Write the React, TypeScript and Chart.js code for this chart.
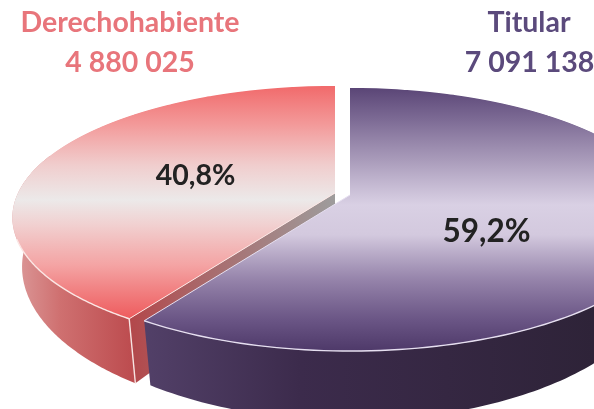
import React, { useEffect, useRef } from "react";
import { Chart, registerables } from "chart.js";

Chart.register(...registerables);

const categories = ["Titular", "Derechohabiente"];
const values = [7091138, 4880025];
const valueLabels = ["7 091 138", "4 880 025"];
const percentLabels = ["59,2%", "40,8%"];

const WIDTH = 594;
const HEIGHT = 409;
const SRC_R = 200;

// perspective model of the tilted disc
const RX = 317;
const RY = 127;
const K = 0.186;
const DEPTH = 46;
const INSET = 0.97;
const CENTERS = [
  { x: 350, y: 195 },
  { x: 335, y: 193 },
];
const TOP_STOPS = [
  [[87, "#5a4576"], [120, "#7d6b95"], [160, "#a99bba"], [205, "#d9d0e4"], [235, "#d3c9de"], [280, "#9583aa"], [320, "#6a5585"], [350, "#4f3a6a"]],
  [[87, "#f16b6c"], [125, "#f39a9a"], [165, "#f0cdcd"], [200, "#ece9e9"], [225, "#f1d0d0"], [265, "#f4a4a4"], [320, "#ee5a5c"]],
];
const SIDE_STOPS = [
  [[145, "#524068"], [300, "#3c2b4c"], [594, "#2e2338"]],
  [[14, "#dc9a9a"], [60, "#cf7070"], [130, "#bd4d50"]],
];
const RIM_COLORS = ["#e6dff0", "#fbe6e4"];

const vOf = (t: number) => t / (RY + K * t);
const project = (i: number, u: number, v: number) => {
  const s = 1 / (1 - K * v);
  return { X: CENTERS[i].x + RX * u * s, Y: CENTERS[i].y + RY * v * s, s };
};
const lower = (i: number, u: number, v: number) => {
  const p = project(i, u, v);
  return { X: CENTERS[i].x + (p.X - CENTERS[i].x) * INSET, Y: p.Y + DEPTH * p.s * p.s };
};

const pieFaces = {
  id: "pieFaces",
  beforeDatasetsDraw(chart: any) {
    const ctx: CanvasRenderingContext2D = chart.ctx;
    const arcs: any[] = chart.getDatasetMeta(0).data;
    const hg = (stops: any[]) => {
      const g = ctx.createLinearGradient(stops[0][0], 0, stops[stops.length - 1][0], 0);
      const a = stops[0][0];
      const b = stops[stops.length - 1][0];
      stops.forEach((st) => g.addColorStop((st[0] - a) / (b - a), st[1]));
      return g;
    };

    const drawSide = (i: number, from: number, to: number) => {
      ctx.beginPath();
      const n = 120;
      for (let k = 0; k <= n; k++) {
        const th = from + ((to - from) * k) / n;
        const p = project(i, Math.cos(th), Math.sin(th));
        k ? ctx.lineTo(p.X, p.Y) : ctx.moveTo(p.X, p.Y);
      }
      for (let k = n; k >= 0; k--) {
        const th = from + ((to - from) * k) / n;
        const p = lower(i, Math.cos(th), Math.sin(th));
        ctx.lineTo(p.X, p.Y);
      }
      ctx.closePath();
      ctx.fillStyle = hg(SIDE_STOPS[i]);
      ctx.fill();
    };

    const drawTop = (i: number, arc: any) => {
      const c = CENTERS[i];
      const first = Math.floor(c.y - RY / (1 + K)) - 1;
      const last = Math.ceil(c.y + RY / (1 - K)) + 1;
      for (let Y = first; Y < last; Y++) {
        const v0 = vOf(Y - c.y);
        const v1 = vOf(Y + 1 - c.y);
        const s = 1 / (1 - K * ((v0 + v1) / 2));
        ctx.save();
        ctx.beginPath();
        ctx.rect(0, Y, WIDTH, 1);
        ctx.clip();
        const a = (RX * s) / SRC_R;
        const d = 1 / ((v1 - v0) * SRC_R);
        ctx.setTransform(a, 0, 0, d, c.x - a * arc.x, Y - d * (arc.y + SRC_R * v0));
        arc.draw(ctx);
        ctx.restore();
      }
    };

    const rim = (i: number, from: number, to: number, width: number) => {
      ctx.beginPath();
      const n = 80;
      for (let k = 0; k <= n; k++) {
        const th = from + ((to - from) * k) / n;
        const p = project(i, Math.cos(th), Math.sin(th));
        k ? ctx.lineTo(p.X, p.Y) : ctx.moveTo(p.X, p.Y);
      }
      ctx.strokeStyle = RIM_COLORS[i];
      ctx.lineWidth = width;
      ctx.stroke();
    };

    const red = arcs[1];
    const purple = arcs[0];
    const tipU = Math.cos(red.startAngle);
    const tipV = Math.sin(red.startAngle);

    // red slice: cut face, outer wall, top
    const tipTop = project(1, tipU, tipV);
    const tipLow = lower(1, tipU, tipV);
    const apexTop = project(1, 0, 0);
    const apexLow = lower(1, 0, 0);
    ctx.beginPath();
    ctx.moveTo(tipTop.X, tipTop.Y);
    ctx.lineTo(apexTop.X, apexTop.Y);
    ctx.lineTo(apexLow.X, apexLow.Y);
    ctx.lineTo(tipLow.X, tipLow.Y);
    ctx.closePath();
    const cut = ctx.createLinearGradient(tipTop.X, 0, apexTop.X, 0);
    cut.addColorStop(0, "#b3474a");
    cut.addColorStop(0.35, "#a9686a");
    cut.addColorStop(1, "#9e9c9c");
    ctx.fillStyle = cut;
    ctx.fill();
    drawSide(1, red.startAngle, Math.PI * 1.1);
    drawTop(1, red);
    rim(1, red.startAngle, Math.PI * 0.889, 1.4);
    ctx.beginPath();
    ctx.moveTo(tipTop.X, tipTop.Y);
    ctx.lineTo(tipLow.X, tipLow.Y);
    ctx.strokeStyle = "#f7e4e2";
    ctx.lineWidth = 1.4;
    ctx.stroke();
    ctx.beginPath();
    ctx.moveTo(tipTop.X, tipTop.Y);
    ctx.lineTo(apexTop.X, apexTop.Y);
    ctx.strokeStyle = "#fbe6e4";
    ctx.lineWidth = 1;
    ctx.stroke();

    // purple slice: outer wall, top
    drawSide(0, -0.1, purple.endAngle);
    drawTop(0, purple);
    rim(0, 0.2, purple.endAngle, 1.4);
    ctx.beginPath();
    const pTip = project(0, Math.cos(purple.endAngle), Math.sin(purple.endAngle));
    const pApex = project(0, 0, 0);
    ctx.moveTo(pTip.X, pTip.Y);
    ctx.lineTo(pApex.X, pApex.Y);
    ctx.strokeStyle = "#e6dff0";
    ctx.lineWidth = 1;
    ctx.stroke();
    return false;
  },
  afterDraw(chart: any) {
    const ctx: CanvasRenderingContext2D = chart.ctx;
    ctx.save();
    ctx.textAlign = "center";
    ctx.textBaseline = "middle";
    ctx.font = "bold 28.5px Lato";
    ctx.fillStyle = "#e8757b";
    ctx.fillText(categories[1], 130, 23);
    ctx.fillText(valueLabels[1], 130, 63);
    ctx.fillStyle = "#5b4a7c";
    ctx.fillText(categories[0], 529, 23);
    ctx.fillText(valueLabels[0], 529.5, 63);
    ctx.fillStyle = "#222222";
    ctx.fillText(percentLabels[1], 195.5, 176);
    ctx.font = "bold 31.5px Lato";
    ctx.fillText(percentLabels[0], 486.5, 232);
    ctx.restore();
  },
};

export default function App() {
  const ref = useRef<HTMLCanvasElement>(null);
  useEffect(() => {
    document.body.style.margin = "0";
    document.body.style.background = "#ffffff";
    const canvas = ref.current!;
    const ctx = canvas.getContext("2d")!;
    const srcY = HEIGHT / 2;
    const grad = (i: number) => {
      const g = ctx.createLinearGradient(0, srcY - SRC_R, 0, srcY + SRC_R);
      TOP_STOPS[i].forEach((st: any) => {
        const v = vOf(st[0] - CENTERS[i].y);
        g.addColorStop(Math.min(1, Math.max(0, (v + 1) / 2)), st[1]);
      });
      return g;
    };
    const chart = new Chart(canvas, {
      type: "pie",
      data: {
        labels: categories,
        datasets: [
          {
            data: values,
            backgroundColor: [grad(0), grad(1)],
            borderWidth: 0,
            radius: SRC_R,
          } as any,
        ],
      },
      options: {
        responsive: false,
        animation: false,
        events: [],
        plugins: { legend: { display: false }, tooltip: { enabled: false } },
      },
      plugins: [pieFaces],
    });
    return () => chart.destroy();
  }, []);
  return <canvas ref={ref} width={WIDTH} height={HEIGHT} style={{ display: "block", filter: "blur(0.4px)" }} />;
}
